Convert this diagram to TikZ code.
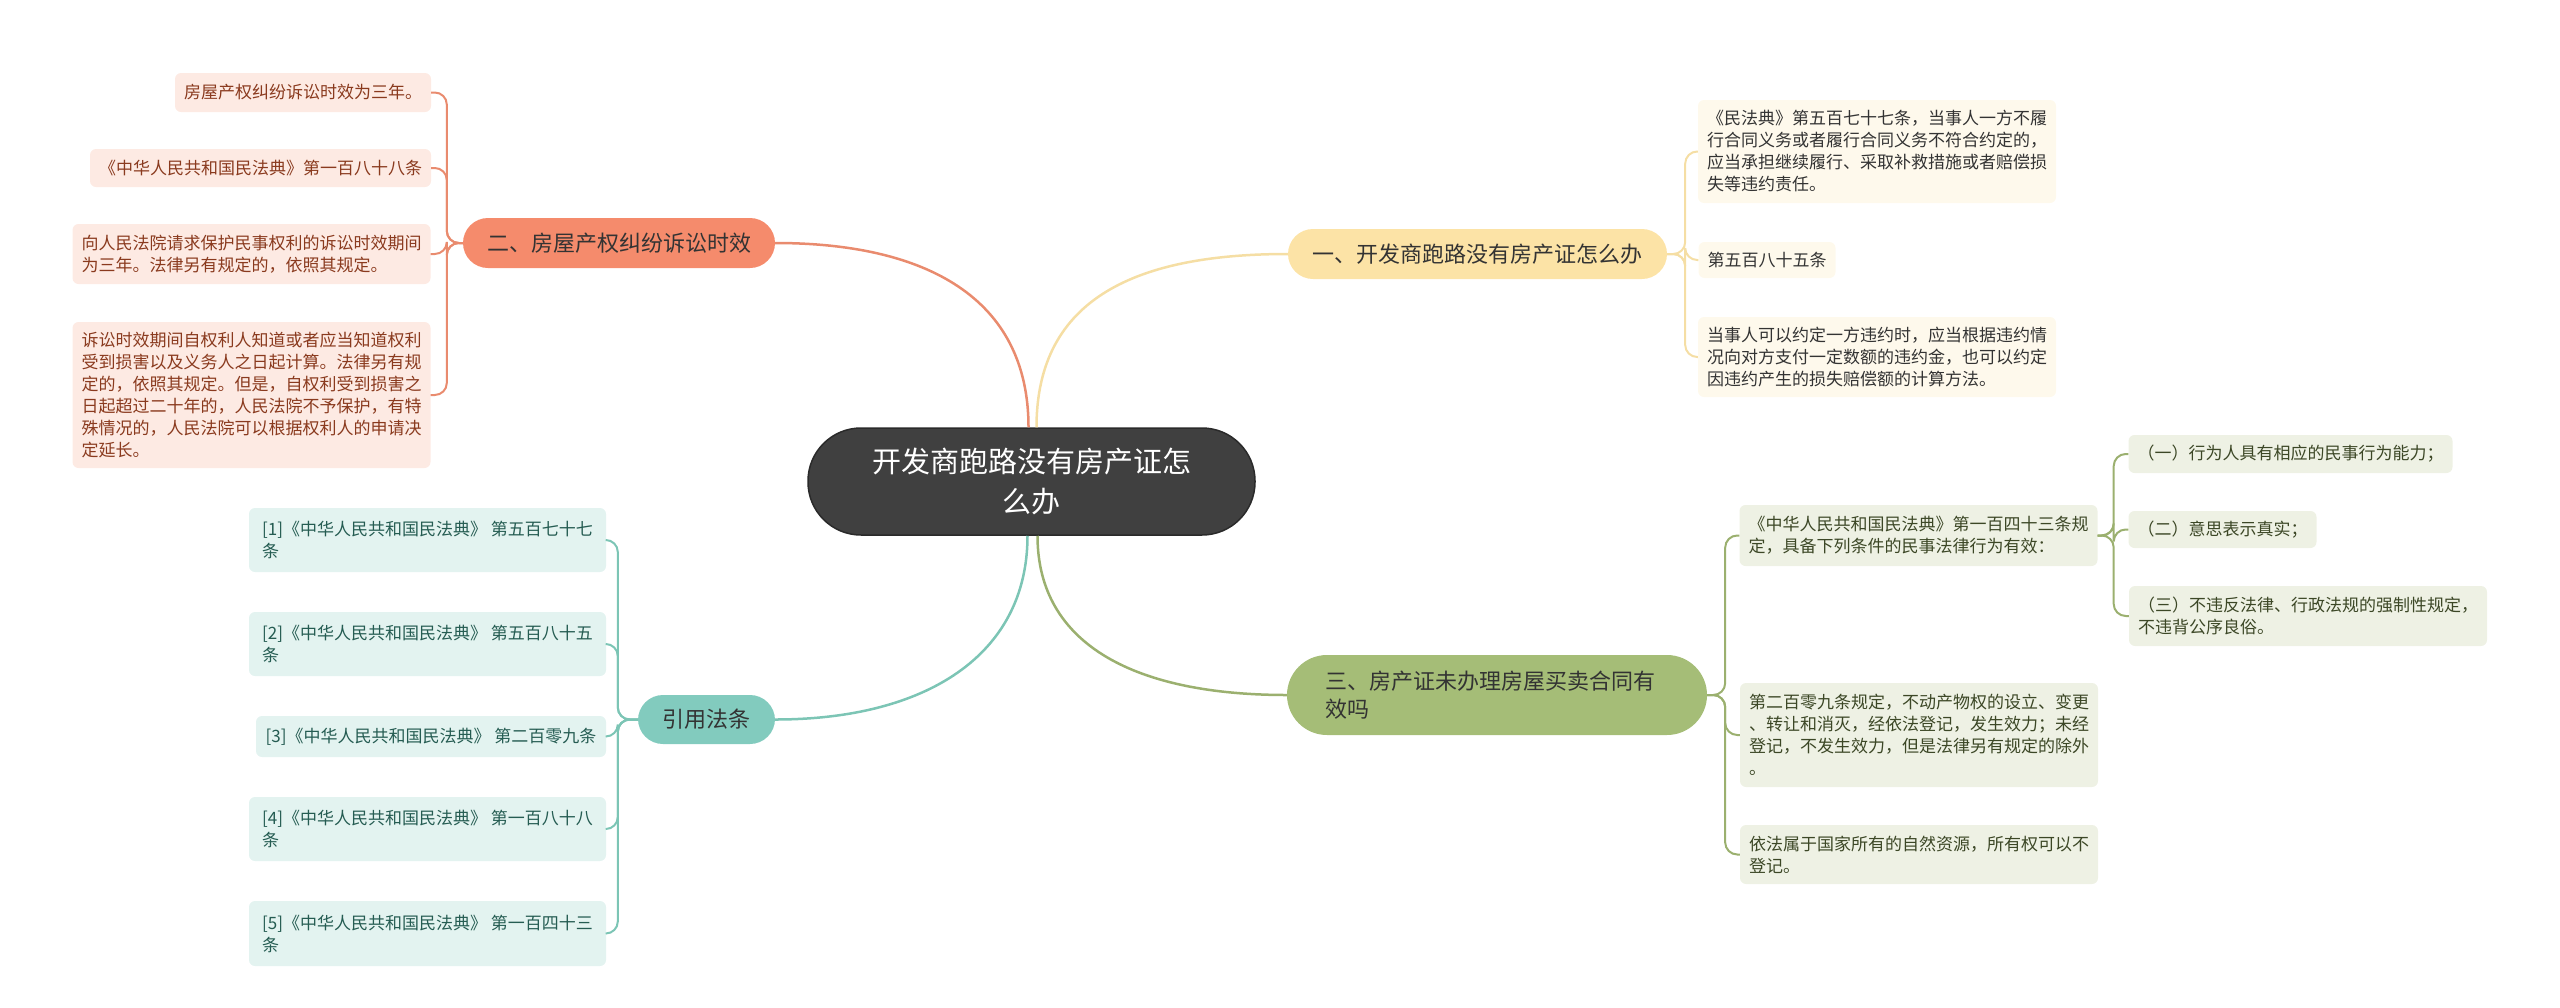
\documentclass[tikz,border=0pt]{standalone}
\usepackage{fontspec}
\setmainfont{Noto Sans CJK SC}
\usetikzlibrary{calc}
\definecolor{oTopic}{HTML}{F58B6C}
\definecolor{oLine}{HTML}{E98B6E}
\definecolor{oLeaf}{HTML}{FDEAE3}
\definecolor{oText}{HTML}{8A3A1E}
\definecolor{yTopic}{HTML}{FCE3A6}
\definecolor{yLine}{HTML}{F5DEA4}
\definecolor{yLeaf}{HTML}{FEF9EC}
\definecolor{yText}{HTML}{333333}
\definecolor{gTopic}{HTML}{A5BD77}
\definecolor{gLine}{HTML}{9BB06F}
\definecolor{gLeaf}{HTML}{EEF1E4}
\definecolor{gText}{HTML}{3C4726}
\definecolor{tTopic}{HTML}{82CBBE}
\definecolor{tLine}{HTML}{7CC5B5}
\definecolor{tLeaf}{HTML}{E3F3F0}
\definecolor{tText}{HTML}{255C52}
\definecolor{rootFill}{HTML}{404040}
\definecolor{rootDraw}{HTML}{2A2A2A}
\definecolor{topicText}{HTML}{333333}
\begin{document}
\begin{tikzpicture}[x=1pt,y=-1pt,
  leaf/.style={rounded corners=6pt, inner xsep=9pt, inner ysep=3pt, align=left,
    font=\fontsize{17}{22}\selectfont},
  oleaf/.style={leaf, fill=oLeaf, text=oText},
  yleaf/.style={leaf, fill=yLeaf, text=yText},
  gleaf/.style={leaf, fill=gLeaf, text=gText},
  tleaf/.style={leaf, fill=tLeaf, text=tText},
  topic/.style={rounded corners=25pt, inner xsep=10pt, inner ysep=3pt, align=left,
    text=topicText, font=\fontsize{22}{28}\selectfont},
  mainline/.style={line width=2.5pt},
  subline/.style={line width=2pt, rounded corners=12pt},
]
\useasboundingbox (0,0) rectangle (2560,1007);

% root
\node[fill=rootFill, draw=rootDraw, line width=1.5pt, rounded corners=53pt,
  minimum width=447, minimum height=107, text=white, align=center,
  font=\fontsize{29}{40}\selectfont] (root) at (1031.5,481.5)
  {开发商跑路没有房产证怎\\么办};

% topics
\node[topic, fill=oTopic, minimum width=312, minimum height=50] (t2) at (619,243)
  {二、房屋产权纠纷诉讼时效};
\node[topic, fill=tTopic, minimum width=137, minimum height=49] (tr) at (706.5,719.5)
  {引用法条};
\node[topic, fill=yTopic, minimum width=379, minimum height=50] (t1) at (1477.5,254)
  {一、开发商跑路没有房产证怎么办};
\node[topic, fill=gTopic, rounded corners=40pt, inner xsep=38pt, text width=344,
  minimum height=80] (t3) at (1497,695)
  {三、房产证未办理房屋买卖合同有\\效吗};

% orange leaves
\node[oleaf, minimum width=254, minimum height=39] (L1) at (303,92.5)
  {房屋产权纠纷诉讼时效为三年。};
\node[oleaf, minimum width=339, minimum height=38] (L2) at (260.5,168)
  {《中华人民共和国民法典》第一百八十八条};
\node[oleaf, minimum width=357, minimum height=60] (L3) at (251.5,254)
  {向人民法院请求保护民事权利的诉讼时效期间\\为三年。法律另有规定的，依照其规定。};
\node[oleaf, minimum width=357, minimum height=146] (L4) at (251.5,395)
  {诉讼时效期间自权利人知道或者应当知道权利\\受到损害以及义务人之日起计算。法律另有规\\定的，依照其规定。但是，自权利受到损害之\\日起超过二十年的，人民法院不予保护，有特\\殊情况的，人民法院可以根据权利人的申请决\\定延长。};

% teal leaves
\node[tleaf, minimum width=357, minimum height=64] (T1) at (427.5,540)
  {[1]《中华人民共和国民法典》 第五百七十七\\条};
\node[tleaf, minimum width=357, minimum height=64] (T2) at (427.5,644)
  {[2]《中华人民共和国民法典》 第五百八十五\\条};
\node[tleaf, minimum width=350, minimum height=41] (T3) at (431,736.5)
  {[3]《中华人民共和国民法典》 第二百零九条};
\node[tleaf, minimum width=357, minimum height=64] (T4) at (427.5,829)
  {[4]《中华人民共和国民法典》 第一百八十八\\条};
\node[tleaf, minimum width=357, minimum height=65] (T5) at (427.5,933.5)
  {[5]《中华人民共和国民法典》 第一百四十三\\条};

% yellow leaves
\node[yleaf, minimum width=356, minimum height=103] (Y1) at (1877,151.5)
  {《民法典》第五百七十七条，当事人一方不履\\行合同义务或者履行合同义务不符合约定的，\\应当承担继续履行、采取补救措施或者赔偿损\\失等违约责任。};
\node[yleaf, minimum width=136, minimum height=36] (Y2) at (1767,260)
  {第五百八十五条};
\node[yleaf, minimum width=356, minimum height=80] (Y3) at (1877,357)
  {当事人可以约定一方违约时，应当根据违约情\\况向对方支付一定数额的违约金，也可以约定\\因违约产生的损失赔偿额的计算方法。};

% green leaves
\node[gleaf, minimum width=357, minimum height=61] (G1) at (1918.5,535.5)
  {《中华人民共和国民法典》第一百四十三条规\\定，具备下列条件的民事法律行为有效：};
\node[gleaf, minimum width=356, minimum height=104] (G2) at (1919,735)
  {第二百零九条规定，不动产物权的设立、变更\\、转让和消灭，经依法登记，发生效力；未经\\登记，不发生效力，但是法律另有规定的除外\\。};
\node[gleaf, minimum width=356, minimum height=59] (G3) at (1919,854.5)
  {依法属于国家所有的自然资源，所有权可以不\\登记。};
\node[gleaf, minimum width=323, minimum height=38] (G1a) at (2290.5,454)
  {（一）行为人具有相应的民事行为能力；};
\node[gleaf, minimum width=187, minimum height=37] (G1b) at (2222.5,529.5)
  {（二）意思表示真实；};
\node[gleaf, minimum width=358, minimum height=60] (G1c) at (2308,616)
  {（三）不违反法律、行政法规的强制性规定，\\不违背公序良俗。};

% main curves
\draw[mainline, oLine] ($(root.north)+(-3,0)$) .. controls +(0,-130) and +(150,0) .. (t2.east);
\draw[mainline, yLine] ($(root.north)+(5,0)$) .. controls +(0,-130) and +(-150,0) .. (t1.west);
\draw[mainline, tLine] ($(root.south)+(-4,0)$) .. controls +(0,120) and +(150,0) .. (tr.east);
\draw[mainline, gLine] ($(root.south)+(6,0)$) .. controls +(0,110) and +(-150,0) .. (t3.west);

% orange branches
\foreach \n in {L1,L2,L3,L4}
  \draw[subline, oLine] (t2.west) -- ++(-16,0) |- (\n.east);
% teal branches
\foreach \n in {T1,T2,T3,T4,T5}
  \draw[subline, tLine] (tr.west) -- ++(-20,0) |- (\n.east);
% yellow branches
\foreach \n in {Y1,Y2,Y3}
  \draw[subline, yLine] (t1.east) -- ++(18,0) |- (\n.west);
% green branches
\foreach \n in {G1,G2,G3}
  \draw[subline, gLine] (t3.east) -- ++(18,0) |- (\n.west);
\foreach \n in {G1a,G1b,G1c}
  \draw[subline, gLine] (G1.east) -- ++(16,0) |- (\n.west);
\end{tikzpicture}
\end{document}
